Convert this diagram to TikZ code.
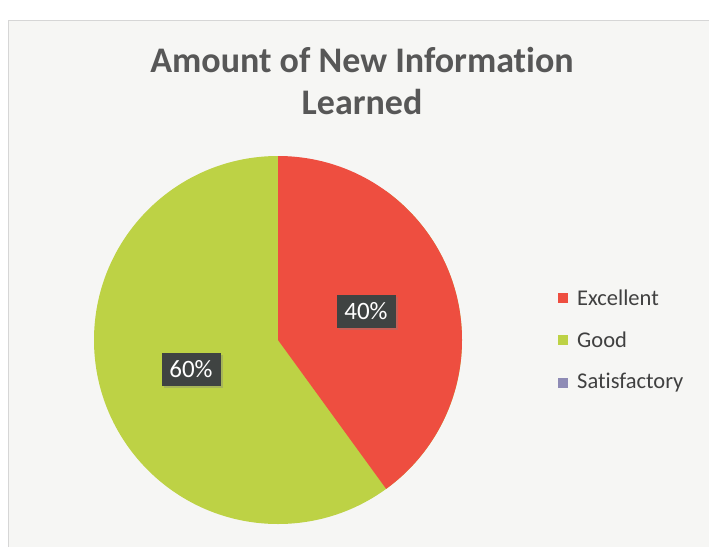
\documentclass[tikz,border=0pt]{standalone}
\usepackage{fontspec}
\setmainfont{Carlito}[Ligatures=NoCommon]
\usetikzlibrary{shadows}
\definecolor{bgc}{HTML}{F6F6F4}
\definecolor{frame}{HTML}{D6D6D6}
\definecolor{exc}{HTML}{EE4E40}
\definecolor{goo}{HTML}{BDD245}
\definecolor{sat}{HTML}{8E8BB5}
\definecolor{ttl}{HTML}{575757}
\definecolor{lbl}{HTML}{3F4342}
\definecolor{leg}{HTML}{404040}
\tikzset{
  pct/.style={fill=lbl, text=white, font=\fontsize{25}{28}\selectfont, minimum width=59pt, minimum height=33pt, inner sep=2pt, drop shadow={shadow xshift=2pt, shadow yshift=-2pt, opacity=0.35}},
  legbox/.style={minimum size=10pt, inner sep=0pt},
  legtxt/.style={anchor=west, text=leg, font=\fontsize{22.5}{24}\selectfont, inner sep=0pt},
  ttlstyle/.style={text=ttl, font=\bfseries\fontsize{36}{40}\selectfont, anchor=base},
}
\begin{document}
\begin{tikzpicture}[x=1pt,y=-1pt]
\useasboundingbox (0,0) rectangle (709,546);
\fill[white] (0,0) rectangle (709,546);
\draw[frame, fill=bgc, line width=1pt] (8,20) rectangle (715,555);
% title
\node[ttlstyle] (t1) at (362,72) {Amount of New Information};
\node[ttlstyle] (t2) at (362,114) {Learned};
% pie
\coordinate (c) at (278,340);
\fill[goo] (c) -- (278,156) arc[start angle=-90, end angle=-414, radius=184] -- cycle;
\fill[exc] (c) -- (278,156) arc[start angle=-90, end angle=54, radius=184] -- cycle;
% labels
\node[pct] (p40) at (366,311) {40\%};
\node[pct] (p60) at (191,369) {60\%};
% legend
\node[legbox, fill=exc] (lb1) at (563,298) {};
\node[legtxt] (l1) at (577,298) {Excellent};
\node[legbox, fill=goo] (lb2) at (563,340) {};
\node[legtxt] (l2) at (577,340) {Good};
\node[legbox, fill=sat] (lb3) at (563,383) {};
\node[legtxt] (l3) at (577,383) {Satisfactory};
\end{tikzpicture}
\end{document}
